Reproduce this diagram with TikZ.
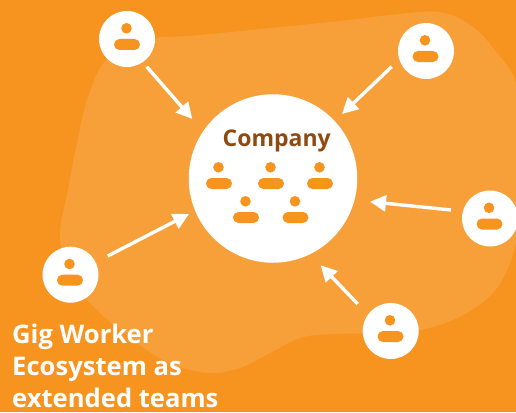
\documentclass[tikz,border=0pt]{standalone}
\usepackage{fontspec}
\setmainfont{Open Sans}
\usetikzlibrary{calc,arrows.meta}
\definecolor{bgor}{HTML}{F79420}
\definecolor{blobor}{HTML}{F79F38}
\definecolor{brn}{HTML}{8F4A10}
\tikzset{
  worker/.style={circle,fill=white,minimum size=56pt,inner sep=0pt},
  conn/.style={draw=white,line width=3.4pt,-{Triangle[length=16pt,width=16pt]}},
  lab/.style={font=\bfseries\fontsize{25.6}{32}\selectfont,text=white,inner sep=0pt,align=left,anchor=north west},
}
\newcommand{\person}[2]{%
  \fill[bgor] (#1-0.5,#2-10.7) circle (5.3pt);
  \fill[bgor,rounded corners=5.4pt] (#1-13,#2) rectangle (#1+13,#2+11);
}
\begin{document}
\begin{tikzpicture}[x=1pt,y=-1pt]
\useasboundingbox (0,0) rectangle (516,412);
\clip (0,0) rectangle (516,412);
\fill[bgor] (0,0) rectangle (516,412);
\fill[blobor] plot[smooth cycle,tension=.6] coordinates {
  (60,237) (68,190) (77,143) (88,97) (108,58) (150,39) (200,35) (340,21) (390,15) (440,12)
  (473,27) (497,53) (516,83) (535,160) (516,243) (507,270) (493,293) (467,313) (433,327)
  (395,333) (333,334) (300,338) (270,353) (240,368) (207,373) (167,362) (133,340) (100,313) (72,280)
};
\node[circle,fill=white,minimum size=168.5pt,inner sep=0pt] (co) at (273,178.5) {};
\node[font=\bfseries\fontsize{23}{27}\selectfont,text=brn,inner sep=0pt,anchor=base] (cot) at (276.7,146) {Company};
\node[worker] (w1) at (127,39) {};
\node[worker] (w2) at (426,51) {};
\node[worker] (w3) at (490,218.5) {};
\node[worker] (w4) at (390.7,331) {};
\node[worker] (w5) at (70.5,274.7) {};
\person{127}{39}\person{425.5}{51}\person{489.5}{218.5}\person{390.5}{331}\person{70}{274.7}
\person{219}{178}\person{271}{178}\person{320}{178}\person{246}{212}\person{295.5}{212}
\draw[conn] ($(w1)+(19.7,27.7)$) -- ($(co)+(-80.7,-59.5)$);
\draw[conn] ($(w2)+(-34.3,15.7)$) -- ($(co)+(69,-64.5)$);
\draw[conn] ($(w3)+(-39,-8.5)$) -- ($(co)+(97,23.2)$);
\draw[conn] ($(w4)+(-33,-27)$) -- ($(co)+(47.7,86.8)$);
\draw[conn] ($(w5)+(37.2,-18.7)$) -- ($(co)+(-84,35.5)$);
\node[lab] (t) at (12,323.5) {Gig Worker\\Ecosystem as\\extended teams};
\end{tikzpicture}
\end{document}
